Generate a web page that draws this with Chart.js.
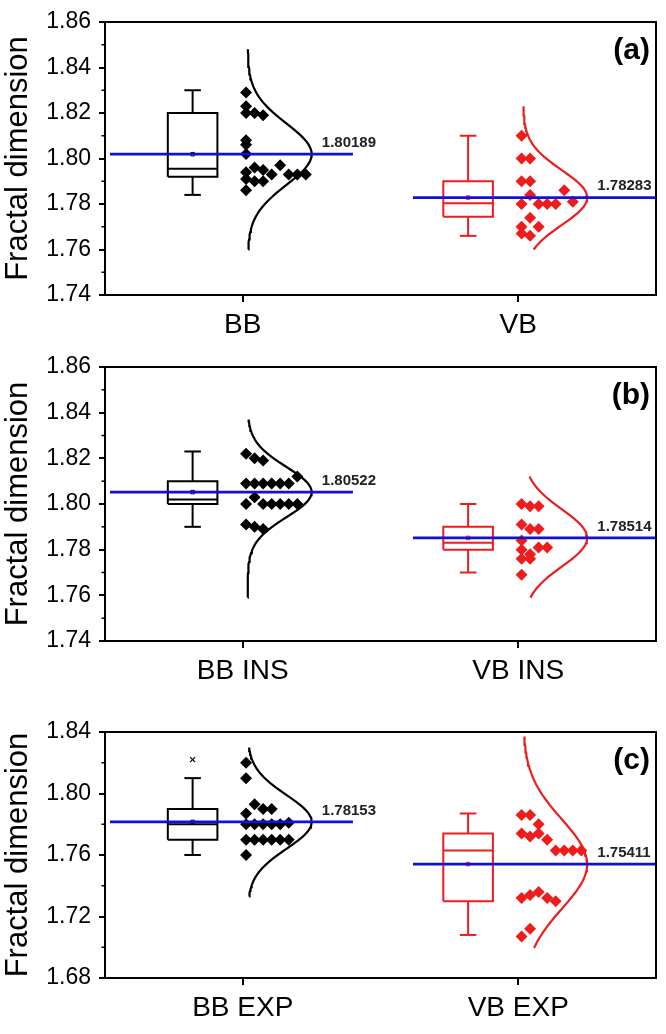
<!DOCTYPE html>
<html>
<head>
<meta charset="utf-8">
<script src="https://cdn.jsdelivr.net/npm/chart.js@4.4.0/dist/chart.umd.min.js"></script>
<style>
  body { margin: 0; background: #fff; width: 666px; height: 1034px; position: relative; overflow: hidden; }
  .panel { position: absolute; left: 0; width: 666px; }
</style>
</head>
<body>
<div class="panel" style="top:0;height:345px"><canvas id="chartA"></canvas></div>
<div class="panel" style="top:345px;height:345px"><canvas id="chartB"></canvas></div>
<div class="panel" style="top:690px;height:344px"><canvas id="chartC"></canvas></div>
<script>
// Category labels
const labelsA = ['BB', 'VB'];
const labelsB = ['BB INS', 'VB INS'];
const labelsC = ['BB EXP', 'VB EXP'];
const panelLetters = ['(a)', '(b)', '(c)'];

// Y tick labels
const yTicksA = [1.74, 1.76, 1.78, 1.80, 1.82, 1.84, 1.86];
const yTicksB = [1.74, 1.76, 1.78, 1.80, 1.82, 1.84, 1.86];
const yTicksC = [1.68, 1.72, 1.76, 1.80, 1.84];

const bbA = [1.829, 1.823, 1.820, 1.820, 1.819, 1.808, 1.806, 1.802,
             1.794, 1.796, 1.795, 1.793, 1.797, 1.793, 1.793, 1.793,
             1.791, 1.790, 1.790, 1.786];
const vbA = [1.810, 1.800, 1.800, 1.790, 1.790,
             1.780, 1.784, 1.780, 1.780, 1.780, 1.786, 1.781,
             1.770, 1.774, 1.770, 1.767, 1.766];
const bbB = [1.822, 1.820, 1.819,
             1.809, 1.809, 1.809, 1.809, 1.809, 1.809, 1.812,
             1.800, 1.803, 1.800, 1.800, 1.800, 1.800, 1.800,
             1.791, 1.790, 1.789];
const vbB = [1.800, 1.799, 1.799, 1.791, 1.789, 1.789, 1.784,
             1.780, 1.778, 1.781, 1.781, 1.776, 1.776, 1.769];
const bbC = [1.820, 1.810, 1.787, 1.793, 1.790, 1.790,
             1.780, 1.780, 1.780, 1.780, 1.780, 1.781,
             1.770, 1.770, 1.770, 1.770, 1.770, 1.770, 1.760];
const vbC = [1.786, 1.786, 1.780,
             1.774, 1.772, 1.774, 1.770, 1.763, 1.763, 1.763, 1.763,
             1.732, 1.734, 1.736, 1.732, 1.730,
             1.707, 1.712];

// Box statistics: [min, q1, median, q3, max]
const boxA = [[1.784, 1.792, 1.7955, 1.820, 1.830], [1.766, 1.7744, 1.7803, 1.790, 1.810]];
const boxB = [[1.790, 1.800, 1.802, 1.810, 1.823], [1.770, 1.780, 1.783, 1.790, 1.800]];
const boxC = [[1.760, 1.770, 1.780, 1.790, 1.810], [1.708, 1.730, 1.763, 1.774, 1.787]];
const outliersC = [[1.822], []];

// Means, standard deviations and normal-curve spans
const meansA = [1.80189, 1.78283];
const meansB = [1.80522, 1.78514];
const meansC = [1.78153, 1.75411];
const sdA = [0.0135, 0.012];
const sdB = [0.011, 0.0125];
const sdC = [0.0175, 0.029];
const spanA = [[1.760, 1.848], [1.760, 1.823]];
const spanB = [[1.759, 1.837], [1.759, 1.812]];
const spanC = [[1.733, 1.830], [1.6995, 1.837]];

// Bin [start, width] used to stack equal-ish points side by side
const binA = [[1.7825, 0.005], [1.7575, 0.01]];
const binB = [[1.785, 0.01], [1.7675, 0.005]];
const binC = [[1.755, 0.01], [1.700, 0.015]];

// geometry (x axis runs 0..2, categories at 0.5 and 1.5)
const catPos = [0.5, 1.5];
const BOX_OFF = -0.182, BOX_HALF = 0.09, CAP_HALF = 0.03;
const PT_START = 0.012, PT_STEP = 0.031;
const CURVE_BASE = 0.018, CURVE_AMP = 0.232;
const MEAN_SPAN = [[-0.482, 0.40], [-0.382, 0.5]];
const colors = ['#000000', '#ee1c1c'];
const BLUE = '#1010d8';

Chart.defaults.font.family = "'Liberation Sans', Arial, sans-serif";
Chart.defaults.color = '#000';

const seg = (pts, color, width, order) => ({
    data: pts, showLine: true, borderColor: color, borderWidth: width,
    pointRadius: 0, fill: false, tension: 0, order: order
});

const groupDatasets = (g, vals, box, mean, sd, span, bin, outl) => {
    const c = catPos[g], col = colors[g];
    const bx = c + BOX_OFF;
    const [mn, q1, md, q3, mx] = box;
    const ds = [];
    // box
    ds.push(seg([{x: bx - BOX_HALF, y: q1}, {x: bx + BOX_HALF, y: q1}, {x: bx + BOX_HALF, y: q3},
                 {x: bx - BOX_HALF, y: q3}, {x: bx - BOX_HALF, y: q1}], col, 2, 3));
    ds.push(seg([{x: bx - BOX_HALF, y: md}, {x: bx + BOX_HALF, y: md}], col, 2, 3));
    ds.push(seg([{x: bx, y: q3}, {x: bx, y: mx}], col, 2, 3));
    ds.push(seg([{x: bx, y: q1}, {x: bx, y: mn}], col, 2, 3));
    ds.push(seg([{x: bx - CAP_HALF, y: mx}, {x: bx + CAP_HALF, y: mx}], col, 2, 3));
    ds.push(seg([{x: bx - CAP_HALF, y: mn}, {x: bx + CAP_HALF, y: mn}], col, 2, 3));
    // mean marker in box
    ds.push({data: [{x: bx, y: mean}], pointStyle: 'rect', pointRadius: 2.5,
             borderColor: col, backgroundColor: 'rgba(0,0,0,0)', borderWidth: 1, order: 3});
    if (outl && outl.length) {
        ds.push({data: outl.map(v => ({x: bx, y: v})), pointStyle: 'crossRot', pointRadius: 3.5,
                 borderColor: col, borderWidth: 1.2, order: 3});
    }
    // points stacked within bins
    const counts = {};
    const pts = vals.map(v => {
        const k = Math.floor((v - bin[0]) / bin[1] + 1e-9);
        counts[k] = (counts[k] || 0);
        const idx = counts[k]++;
        return {x: c + PT_START + idx * PT_STEP, y: v};
    });
    ds.push({data: pts, pointStyle: 'rectRot', pointRadius: 6,
             backgroundColor: col, borderColor: col, borderWidth: 0, order: 1});
    // normal distribution curve
    const curve = [];
    for (let i = 0; i <= 80; i++) {
        const v = span[0] + (span[1] - span[0]) * i / 80;
        curve.push({x: c + CURVE_BASE + CURVE_AMP * Math.exp(-Math.pow(v - mean, 2) / (2 * sd * sd)), y: v});
    }
    ds.push(seg(curve, col, 2.2, 2));
    // mean line
    ds.push(seg([{x: c + MEAN_SPAN[g][0], y: mean}, {x: c + MEAN_SPAN[g][1], y: mean}], BLUE, 2.8, 0));
    return ds;
};

const panelPlugin = {
    id: 'panelDeco',
    afterDraw(chart, args, opts) {
        const {ctx, chartArea: a, scales: {x, y}} = chart;
        ctx.save();
        // frame
        ctx.strokeStyle = '#000';
        ctx.lineWidth = 2;
        ctx.strokeRect(a.left, a.top, a.right - a.left, a.bottom - a.top);
        // minor ticks halfway between majors
        const t = opts.ticks;
        ctx.lineWidth = 1.5;
        for (let i = 0; i < t.length - 1; i++) {
            const py = y.getPixelForValue((t[i] + t[i + 1]) / 2);
            ctx.beginPath();
            ctx.moveTo(a.left - 3.5, py);
            ctx.lineTo(a.left, py);
            ctx.stroke();
        }
        // mean labels
        ctx.fillStyle = '#222';
        ctx.font = "bold 15px 'Liberation Sans', Arial, sans-serif";
        ctx.textAlign = 'left';
        ctx.textBaseline = 'bottom';
        opts.means.forEach((m, g) => {
            ctx.fillText(m.toFixed(5), x.getPixelForValue(catPos[g] + 0.287), y.getPixelForValue(m) - 4);
        });
        // panel letter
        ctx.fillStyle = '#000';
        ctx.font = "bold 30px 'Liberation Sans', Arial, sans-serif";
        ctx.textAlign = 'right';
        ctx.textBaseline = 'middle';
        ctx.fillText(opts.letter, a.right - 6, a.top + 29);
        ctx.restore();
    }
};

const makePanel = (id, labels, yTicks, datasets, means, letter, plotTop, xHeight) => {
    const ctx = document.getElementById(id).getContext('2d');
    return new Chart(ctx, {
        type: 'scatter',
        data: {datasets: datasets},
        options: {
            responsive: true,
            maintainAspectRatio: false,
            animation: false,
            events: [],
            layout: {padding: {top: plotTop, right: 10, left: 0, bottom: 0}},
            plugins: {
                legend: {display: false},
                tooltip: {enabled: false},
                panelDeco: {ticks: yTicks, means: means, letter: letter}
            },
            scales: {
                x: {
                    type: 'linear', min: 0, max: 2,
                    afterBuildTicks: s => { s.ticks = catPos.map(v => ({value: v})); },
                    ticks: {
                        callback: (v, i) => labels[i],
                        font: {size: 28}, color: '#000', padding: 6,
                        autoSkip: false, maxRotation: 0
                    },
                    grid: {drawOnChartArea: false, tickLength: 7, color: '#000', lineWidth: 2},
                    border: {display: true, color: '#000', width: 2},
                    afterFit: s => { s.height = xHeight; }
                },
                y: {
                    min: yTicks[0], max: yTicks[yTicks.length - 1],
                    afterBuildTicks: s => { s.ticks = yTicks.map(v => ({value: v})); },
                    ticks: {
                        callback: v => v.toFixed(2),
                        font: {size: 23}, color: '#000', padding: 8, autoSkip: false
                    },
                    grid: {drawOnChartArea: false, tickLength: 6, color: '#000', lineWidth: 2},
                    border: {display: true, color: '#000', width: 2},
                    title: {display: true, text: 'Fractal dimension', font: {size: 31}, color: '#000',
                            padding: {top: 0, bottom: 0}},
                    afterFit: s => { s.width = 105; }
                }
            }
        },
        plugins: [panelPlugin]
    });
};

makePanel('chartA', labelsA, yTicksA,
    [...groupDatasets(0, bbA, boxA[0], meansA[0], sdA[0], spanA[0], binA[0]),
     ...groupDatasets(1, vbA, boxA[1], meansA[1], sdA[1], spanA[1], binA[1])],
    meansA, panelLetters[0], 22, 50);

makePanel('chartB', labelsB, yTicksB,
    [...groupDatasets(0, bbB, boxB[0], meansB[0], sdB[0], spanB[0], binB[0]),
     ...groupDatasets(1, vbB, boxB[1], meansB[1], sdB[1], spanB[1], binB[1])],
    meansB, panelLetters[1], 22, 49);

makePanel('chartC', labelsC, yTicksC,
    [...groupDatasets(0, bbC, boxC[0], meansC[0], sdC[0], spanC[0], binC[0], outliersC[0]),
     ...groupDatasets(1, vbC, boxC[1], meansC[1], sdC[1], spanC[1], binC[1], outliersC[1])],
    meansC, panelLetters[2], 42, 56);
</script>
</body>
</html>
